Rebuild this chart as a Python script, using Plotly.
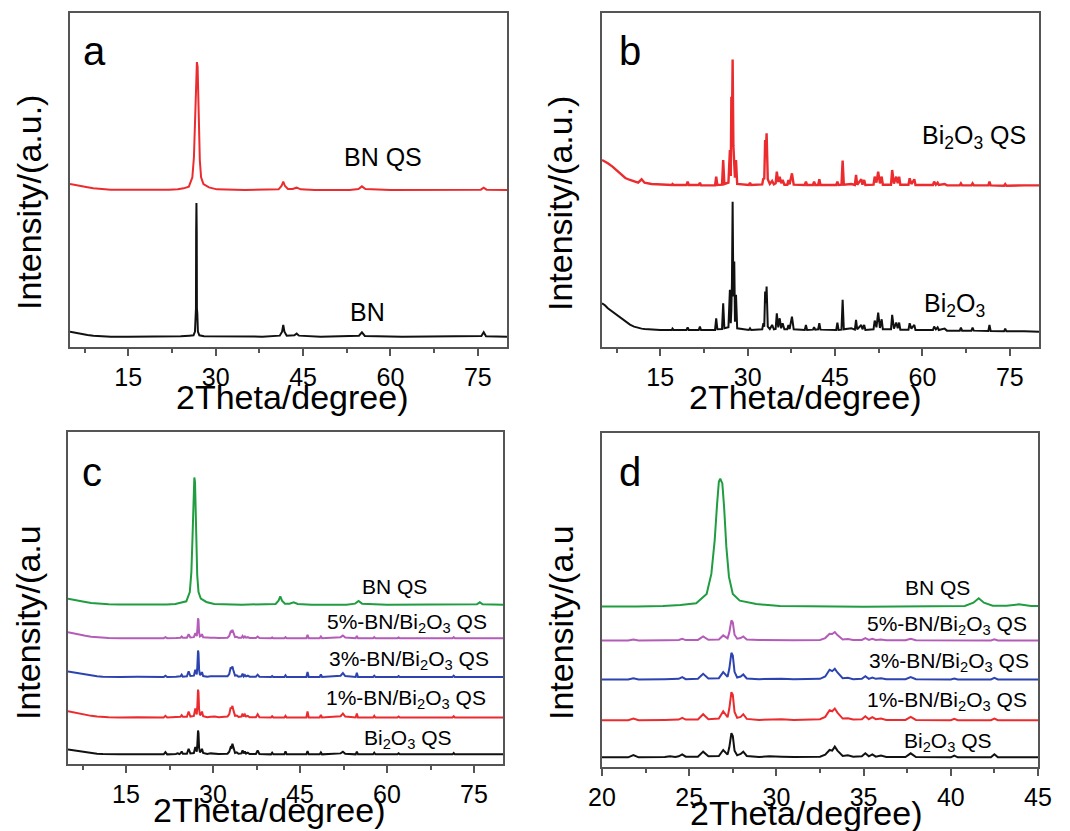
import plotly.graph_objects as go

W, H = 1070, 831
FONT = "Liberation Sans, Arial, sans-serif"

# ---------------- h-BN (commercial), panel a ----------------
tt_bn = [5, 6, 7, 8, 9, 10, 12, 15, 20, 24, 25.5, 26.2, 26.45, 26.55, 26.62, 26.65,
         26.7, 26.75, 26.78, 26.85, 26.95, 27.2, 28, 32, 38, 41.0, 41.4, 41.6, 41.8,
         42.2, 43.5, 43.9, 44.3, 48, 54.6, 55.1, 55.6, 62, 70, 75.6, 76.0, 76.4, 80]
int_bn = [1.5, 1.1, 0.8, 0.5, 0.3, 0.15, 0, 0, 0, 0.1, 0.3, 0.4, 1.5, 7.9, 8.5, 31,
          40.0, 31, 8.5, 7.0, 1.5, 0.4, 0.1, 0, 0, 0.3, 1.5, 3.5, 1.5,
          0.3, 0.4, 0.9, 0.3, 0, 0.3, 1.3, 0.2, 0, 0, 0.2, 1.3, 0.1, 0]

# ---------------- BN QS, panels a / c / d ----------------
tt_bn_qs = [5, 6, 7, 8, 9, 10, 11, 12, 14, 18, 22, 23.5, 24.5, 25.4, 26.0, 26.27,
            26.46, 26.6, 26.7, 26.78, 26.9, 27.0, 27.13, 27.28, 27.5, 27.9, 28.85,
            30.2, 35, 40.8, 41.3, 41.6, 41.9, 42.4, 43.2, 43.9, 44.6, 47, 53, 54.5,
            55.1, 55.7, 60, 66, 70, 75.5, 76.0, 76.5, 80]
int_bn_qs = [1.8, 1.4, 1.1, 0.8, 0.5, 0.35, 0.2, 0.1, 0.05, 0, 0.05, 0.2, 0.5, 1.0,
             3.8, 9.8, 19.8, 30.8, 37.4, 38.3, 36.9, 29.9, 17.9, 8.9, 3.8, 1.8, 0.8,
             0.2, 0, 0.2, 1.2, 2.5, 1.2, 0.3, 0.3, 0.7, 0.2, 0, 0, 0.3,
             1.1, 0.3, 0, 0, 0, 0.1, 0.7, 0.1, 0]

# ---------------- Bi2O3 vs Bi2O3 QS, panel b ----------------
tt_b = [5, 5.5, 6, 6.8, 7.5, 8.3, 9, 9.8, 10.5, 11.2, 11.8, 12.3, 13.5, 15, 17.0,
        17.1, 17.3, 19.5, 19.7, 19.9, 21.6, 21.8, 22.0, 24.4, 24.6, 24.8, 25.6, 25.8,
        26.0, 26.7, 26.95, 27.1, 27.2, 27.3, 27.42, 27.55, 27.7, 27.82, 28.0, 28.2,
        30.2, 30.4, 30.6, 32.5, 32.7, 32.85, 33.0, 33.12, 33.25, 33.45, 33.8, 34.2,
        34.5, 34.8, 35.0, 35.25, 35.5, 35.75, 36.0, 36.3, 36.8, 37.0, 37.2, 37.6,
        37.9, 39.8, 40.0, 40.2, 41.2, 41.4, 41.6, 42.1, 42.3, 42.5, 45.2, 45.4, 45.6,
        46.1, 46.3, 46.5, 47.8, 48.4, 48.6, 48.8, 49.5, 49.7, 50.0, 50.2, 51.6, 51.8,
        52.1, 52.4, 52.7, 53.0, 53.2, 54.6, 54.8, 55.1, 55.5, 55.75, 56.0, 56.2, 57.6,
        57.8, 58.1, 58.6, 58.8, 61.8, 62.0, 62.3, 62.6, 62.8, 63.8, 64.2, 66.4, 66.6,
        66.8, 68.4, 68.6, 68.8, 71.3, 71.5, 71.7, 74.0, 74.2, 74.4, 77.5, 80]
int_bi2o3 = [8.0, 7.4, 6.5, 5.5, 4.5, 3.4, 2.5, 1.6, 1.0, 0.6, 0.4, 0.3, 0.1, 0.0, 0.0,
             0.4, 0.0, 0.0, 0.8, 0.0, 0.0, 1.0, 0.0, 0.0, 3.5, 0.2, 0.3, 8.0,
             0.5, 0.8, 12.0, 2.0, 6.0, 14.0, 38.4, 10.0, 20.5, 2.5, 10.5, 0.5,
             0.0, 0.5, 0.0, 0.2, 2.0, 1.0, 11.5, 8.0, 13.0, 1.0, 0.3, 1.5,
             0.2, 0.3, 5.0, 0.8, 3.5, 0.5, 2.0, 0.2, 0.2, 1.5, 0.3, 4.0,
             0.2, 0.0, 1.5, 0.0, 0.1, 0.8, 0.1, 0.2, 2.0, 0.1, 0.0, 2.2, 0.0,
             0.1, 9.0, 0.2, 0.5, 0.1, 3.0, 0.2, 1.5, 0.2, 1.5, 0.0, 0.2, 2.8,
             0.8, 5.2, 0.6, 3.2, 0.2, 0.2, 4.5, 0.4, 2.2, 0.5, 2.2, 0.1, 0.1,
             2.0, 0.4, 1.5, 0.0, 0.0, 1.0, 0.2, 0.8, 0.0, 0.4, -0.2, -0.2, 0.7,
             -0.2, -0.2, 0.7, -0.2, -0.3, 1.5, -0.3, -0.4, 0.4, -0.4, -0.4, -0.5]
int_bi2o3_qs = [7.8, 7.4, 6.8, 5.8, 4.8, 3.6, 2.4, 1.8, 1.3, 1.0, 2.0, 1.0, 0.6, 0.5, 0.3,
                0.6, 0.3, 0.3, 1.3, 0.3, 0.3, 1.0, 0.2, 0.2, 2.8, 0.3, 0.4, 7.8,
                0.6, 1.0, 10.8, 3.0, 26.7, 18.0, 37.9, 12.0, 8.0, 2.5, 7.8, 0.6,
                0.3, 1.0, 0.3, 0.5, 2.3, 2.0, 13.8, 10.0, 15.8, 2.0, 0.6, 1.5,
                0.5, 0.8, 4.3, 1.2, 2.8, 0.8, 1.8, 0.4, 0.4, 1.8, 0.5, 3.8,
                0.4, 0.3, 1.3, 0.3, 0.3, 1.3, 0.3, 0.3, 2.0, 0.3, 0.3, 1.3, 0.3,
                0.4, 7.6, 0.4, 0.6, 0.3, 3.3, 0.4, 2.0, 0.4, 1.8, 0.3, 0.4, 2.8,
                1.0, 4.3, 0.8, 2.8, 0.4, 0.4, 4.8, 0.7, 2.8, 0.8, 2.8, 0.4, 0.4,
                2.3, 0.6, 2.0, 0.3, 0.3, 1.3, 0.4, 1.0, 0.3, 0.6, 0.2, 0.2, 0.8,
                0.2, 0.2, 0.8, 0.2, 0.2, 1.3, 0.2, 0.1, 0.6, 0.1, 0.2, 0.2]

# ---------------- BN/Bi2O3 QS composites, panels c / d ----------------
tt_mix = [5, 6, 7, 8, 9, 10, 11, 12, 14, 17, 21.5, 21.8, 22.1, 23.6, 23.9, 24.2, 24.4,
          24.6, 24.8, 25.5, 25.8, 26.1, 26.7, 26.95, 27.2, 27.3, 27.42, 27.5, 27.6,
          27.75, 27.95, 28.1, 28.3, 29, 29.6, 30.3, 31, 32.5, 32.8, 33.05, 33.2, 33.35,
          33.5, 33.8, 34.1, 34.4, 34.9, 35.1, 35.3, 35.5, 35.7, 36.0, 36.3, 37.4, 37.7,
          38.0, 40.0, 40.2, 40.4, 42.3, 42.5, 42.7, 44, 46.1, 46.3, 46.5, 48.4, 48.6,
          48.8, 52.0, 52.4, 52.8, 54.6, 54.8, 55.0, 57.6, 57.8, 58.0, 61.8, 62.0, 62.2,
          71.3, 71.5, 71.7, 80]
int_mix_0 = [1.5, 1.2, 0.9, 0.6, 0.4, 0.2, 0.1, 0.05, 0, 0.05, 0, 0.7, 0, 0.1, 0.3, 0.1, 0.3,
             0.9, 0.2, 0.2, 1.7, 0.3, 0.4, 2.2, 0.8, 3.0, 7.2, 6.4, 2.0,
             0.6, 1.0, 1.7, 0.4, 0.1, 0.3, 0.2, 0.1, 0.2, 0.8, 2.2, 2.0, 3.2,
             2.0, 0.4, 0.6, 0.2, 0.3, 1.2, 0.3, 0.9, 0.2, 0.5, 0.1, 0.1, 1.2,
             0.1, 0, 0.5, 0, 0, 0.9, 0, 0, 0, 1.0, 0, 0, 0.6,
             0, 0.3, 0.8, 0.2, 0, 0.8, 0, 0, 0.5, 0, 0, 0.3, 0,
             0, 0.4, 0, 0]
int_mix_1 = [1.9, 1.5, 1.1, 0.8, 0.5, 0.3, 0.15, 0.05, 0, 0.1, 0, 0.5, 0, 0.1, 0.2, 0.1, 0.2,
             0.7, 0.2, 0.2, 1.8, 0.3, 0.5, 2.7, 0.9, 3.5, 8.4, 7.6, 2.5,
             0.7, 1.0, 1.8, 0.4, 0.1, 0.2, 0.3, 0.1, 0.3, 1.0, 3.0, 2.7, 3.5,
             2.3, 0.5, 0.6, 0.2, 0.3, 1.2, 0.3, 0.9, 0.3, 0.5, 0.1, 0.1, 1.0,
             0.1, 0, 0.4, 0, 0, 0.5, 0, 0, 0, 1.8, 0, 0, 0.8,
             0, 0.4, 1.2, 0.3, 0, 1.2, 0, 0, 0.5, 0, 0, 0.3, 0,
             0, 0.4, 0, 0]
int_mix_3 = [1.7, 1.4, 1.0, 0.7, 0.45, 0.25, 0.1, 0.05, 0, 0.05, 0, 0.4, 0, 0.1, 0.2, 0.1, 0.2,
             0.7, 0.1, 0.2, 1.7, 0.3, 0.4, 2.2, 0.8, 3.2, 8.0, 7.2, 2.3,
             0.6, 0.9, 1.5, 0.3, 0.1, 0.2, 0.2, 0.1, 0.2, 0.9, 2.9, 2.5, 3.2,
             2.1, 0.4, 0.5, 0.1, 0.2, 1.0, 0.2, 0.6, 0.2, 0.4, 0.1, 0.1, 0.7,
             0.1, 0, 0.3, 0, 0, 0.5, 0, 0, 0, 1.5, 0, 0, 0.8,
             0, 0.4, 1.2, 0.3, 0, 1.3, 0, 0, 0.4, 0, 0, 0.3, 0,
             0, 0.4, 0, 0]
int_mix_5 = [1.8, 1.4, 1.0, 0.7, 0.45, 0.25, 0.1, 0.05, 0, 0.05, 0, 0.3, 0, 0.05, 0.15, 0.05, 0.15,
             0.5, 0.1, 0.15, 1.2, 0.2, 0.3, 1.5, 0.6, 2.4, 6.0, 5.4, 1.7,
             0.5, 0.7, 1.2, 0.3, 0.1, 0.15, 0.15, 0.05, 0.15, 0.7, 2.0, 1.9, 2.5,
             1.6, 0.3, 0.4, 0.1, 0.15, 0.7, 0.15, 0.5, 0.15, 0.3, 0.05, 0.05, 0.5,
             0.05, 0, 0.2, 0, 0, 0.3, 0, 0, 0, 1.0, 0, 0, 0.5,
             0, 0.3, 0.8, 0.2, 0, 0.7, 0, 0, 0.3, 0, 0, 0.2, 0,
             0, 0.3, 0, 0]

# vertical stacking offsets (a.u.)
off_a = {"BN": 3.1, "BN QS": 47.0}
off_b = {"Bi2O3": 5.1, "Bi2O3 QS": 48.2}
off_cd = {"Bi2O3 QS": 2.9, "1%": 14.0, "3%": 26.2, "5%": 37.9, "BN QS": 48.0}

RED = "#ec2b2e"
BLACK = "#111111"
GREEN = "#1f9d40"
BLUE = "#2c43b0"
PURPLE = "#b35cb8"


def shifted(vals, off):
    return [v + off for v in vals]


fig = go.Figure()


def add(x, y, color, xa, ya, width=2.0):
    fig.add_trace(go.Scatter(x=x, y=y, mode="lines", xaxis=xa, yaxis=ya,
                             line=dict(color=color, width=width),
                             showlegend=False, hoverinfo="skip"))


# panel a
add(tt_bn_qs, shifted(int_bn_qs, off_a["BN QS"]), RED, "x", "y")
add(tt_bn, shifted(int_bn, off_a["BN"]), BLACK, "x", "y")
# panel b
add(tt_b, shifted(int_bi2o3_qs, off_b["Bi2O3 QS"]), RED, "x2", "y2", 2.4)
add(tt_b, shifted(int_bi2o3, off_b["Bi2O3"]), BLACK, "x2", "y2")
# panels c and d share the same patterns
for xa, ya in (("x3", "y3"), ("x4", "y4")):
    add(tt_bn_qs, shifted(int_bn_qs, off_cd["BN QS"]), GREEN, xa, ya)
    add(tt_mix, shifted(int_mix_5, off_cd["5%"]), PURPLE, xa, ya)
    add(tt_mix, shifted(int_mix_3, off_cd["3%"]), BLUE, xa, ya)
    add(tt_mix, shifted(int_mix_1, off_cd["1%"]), RED, xa, ya)
    add(tt_mix, shifted(int_mix_0, off_cd["Bi2O3 QS"]), BLACK, xa, ya)


# figure pixel -> paper fraction
def px(x):
    return x / W


def py(y):
    return 1 - y / H


LINE = "#555555"


def xaxis(dom, rng, dtick, minor, anchor):
    return dict(domain=dom, range=rng, anchor=anchor, showline=True, mirror=True,
                linecolor=LINE, linewidth=1.5, ticks="outside", ticklen=7,
                tickwidth=1.5, tickcolor=LINE, tick0=0, dtick=dtick,
                minor=dict(ticks="outside", ticklen=4, tickwidth=1.5,
                           tickcolor=LINE, tick0=0, dtick=minor),
                tickfont=dict(family=FONT, size=25, color="black"),
                showgrid=False, zeroline=False, fixedrange=True, automargin=False)


def yaxis(dom, anchor):
    return dict(domain=dom, range=[0, 100], anchor=anchor, showline=True,
                mirror=True, linecolor=LINE, linewidth=1.5, ticks="",
                showticklabels=False, showgrid=False, zeroline=False,
                fixedrange=True, automargin=False)


dom_a = ([px(70), px(507)], [py(347), py(13)])
dom_b = ([px(602), px(1039)], [py(347), py(13)])
dom_c = ([px(68), px(503)], [py(764), py(432)])
dom_d = ([px(602), px(1038)], [py(767), py(433)])

fig.update_layout(
    width=W, height=H, margin=dict(l=0, r=0, t=0, b=0, autoexpand=False),
    paper_bgcolor="white", plot_bgcolor="white",
    font=dict(family=FONT, color="black"),
    xaxis=xaxis(dom_a[0], [5, 80], 15, 7.5, "y"),
    yaxis=yaxis(dom_a[1], "x"),
    xaxis2=xaxis(dom_b[0], [5, 80], 15, 7.5, "y2"),
    yaxis2=yaxis(dom_b[1], "x2"),
    xaxis3=xaxis(dom_c[0], [5, 80], 15, 7.5, "y3"),
    yaxis3=yaxis(dom_c[1], "x3"),
    xaxis4=xaxis(dom_d[0], [20, 45], 5, 2.5, "y4"),
    yaxis4=yaxis(dom_d[1], "x4"),
)

ann = []


def paper_text(text, x, y, size, angle=0, xanchor="center"):
    ann.append(dict(text=text, x=px(x), y=py(y), xref="paper", yref="paper",
                    showarrow=False, xanchor=xanchor, yanchor="middle",
                    textangle=angle, font=dict(family=FONT, size=size, color="black")))


def data_text(text, x, y, xa, ya, size):
    ann.append(dict(text=text, x=x, y=y, xref=xa, yref=ya, showarrow=False,
                    xanchor="center", yanchor="middle",
                    font=dict(family=FONT, size=size, color="black")))


# panel letters
paper_text("a", 81, 51, 40, xanchor="left")
paper_text("b", 617, 51, 40, xanchor="left")
paper_text("c", 80, 472, 40, xanchor="left")
paper_text("d", 617, 472, 40, xanchor="left")

# axis titles
XT = "2Theta/degree)"
paper_text(XT, 292, 397, 34)
paper_text(XT, 805, 397, 34)
paper_text(XT, 270, 810, 34)
paper_text(XT, 806, 813, 34)
paper_text("Intensity/(a.u.)", 29, 203, 34, angle=-90)
paper_text("Intensity/(a.u.)", 560, 204, 34, angle=-90)
paper_text("Intensity/(a.u", 28, 623, 34, angle=-90)
paper_text("Intensity/(a.u", 561, 623, 34, angle=-90)

BI = "Bi<sub>2</sub>O<sub>3</sub>"
# panel a labels
data_text("BN QS", 58.8, 57.0, "x", "y", 25)
data_text("BN", 56.0, 10.6, "x", "y", 25)
# panel b labels
data_text(BI + " QS", 68.8, 63.0, "x2", "y2", 25)
data_text(BI, 65.5, 12.5, "x2", "y2", 25)
# panel c / d labels: (text, y, x in c, x in d)
labels_cd = [("BN QS", 53.6, 61.3, 39.25),
             ("5%-BN/" + BI + " QS", 42.6, 63.5, 39.8),
             ("3%-BN/" + BI + " QS", 31.3, 63.8, 39.9),
             ("1%-BN/" + BI + " QS", 19.7, 63.3, 39.8),
             (BI + " QS", 7.4, 63.7, 39.85)]
for text, y, xc, xd in labels_cd:
    data_text(text, xc, y, "x3", "y3", 21)
    data_text(text, xd, y, "x4", "y4", 21)

fig.update_layout(annotations=ann)
fig.write_html("out.html")
